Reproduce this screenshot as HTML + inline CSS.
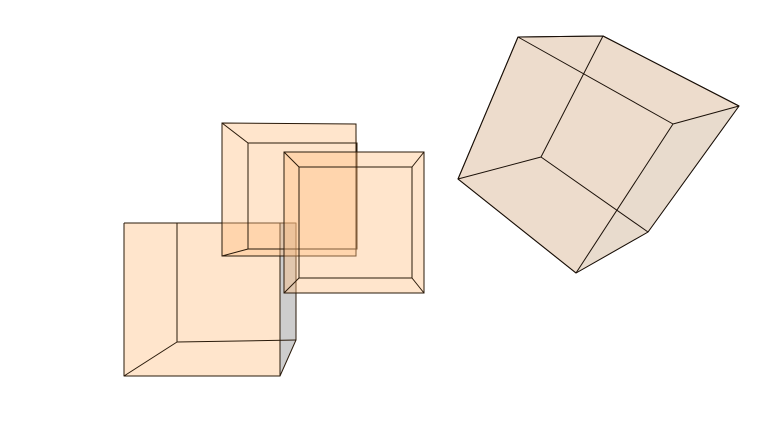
<!DOCTYPE html>
<html><head><meta charset="utf-8"><style>
html,body{margin:0;padding:0;background:#fff;width:782px;height:446px;overflow:hidden}
</style></head><body>
<svg width="782" height="446" viewBox="0 0 782 446">
<g stroke="#2a1a0a" stroke-width="1" stroke-linejoin="round">
  <polygon points="280,223 296,223 296,340 280,376" fill="#c8c8c8" fill-opacity="0.9" stroke="none"/>
  <polygon points="124,223 280,223 280,376 124,376" fill="#ffbf80" fill-opacity="0.4" stroke="none"/>
  <polyline points="124,223 296,223 296,340 280,376 124,376 124,223" fill="none"/>
  <polyline points="177,223 177,342 296,340" fill="none"/>
  <line x1="124" y1="376" x2="177" y2="342"/>
  <line x1="280" y1="223" x2="280" y2="376"/>
</g>
<g stroke="#2a1a0a" stroke-width="1">
  <polygon points="222,123 356,124 357,143 357,249 356,256 222,256" fill="#ffbf80" fill-opacity="0.4" stroke="none"/>
  <polygon points="222,123 356,124 356,256 222,256" fill="none"/>
  <polyline points="248,143 248,249 357,249 357,143 248,143" fill="none"/>
  <line x1="222" y1="123" x2="248" y2="143"/>
  <line x1="222" y1="256" x2="248" y2="249"/>
</g>
<g stroke="#2a1a0a" stroke-width="1">
  <polygon points="284,152 424,152 424,293 284,293" fill="#ffbf80" fill-opacity="0.4"/>
  <polygon points="299,167 412,167 412,278 299,278" fill="none"/>
  <line x1="284" y1="152" x2="299" y2="167"/>
  <line x1="424" y1="152" x2="412" y2="167"/>
  <line x1="284" y1="293" x2="299" y2="278"/>
  <line x1="424" y1="293" x2="412" y2="278"/>
</g>
<g stroke="#1a1008" stroke-width="1" stroke-linejoin="round">
  <polygon points="518,37 603,36 739,106 648,232 576,273 458,179" fill="#eddccc"/>
  <polygon points="673,124 739,106 648,232 576,273 617,211" fill="#e8dbcd" stroke="none"/>
  <polygon points="518,37 603,36 739,106 648,232 576,273 458,179" fill="none"/>
  <line x1="518" y1="37" x2="673" y2="124"/>
  <line x1="603" y1="36" x2="541" y2="157"/>
  <line x1="458" y1="179" x2="541" y2="157"/>
  <line x1="541" y1="157" x2="648" y2="232"/>
  <line x1="673" y1="124" x2="576" y2="273"/>
  <line x1="673" y1="124" x2="739" y2="106"/>
</g>
</svg>
</body></html>
